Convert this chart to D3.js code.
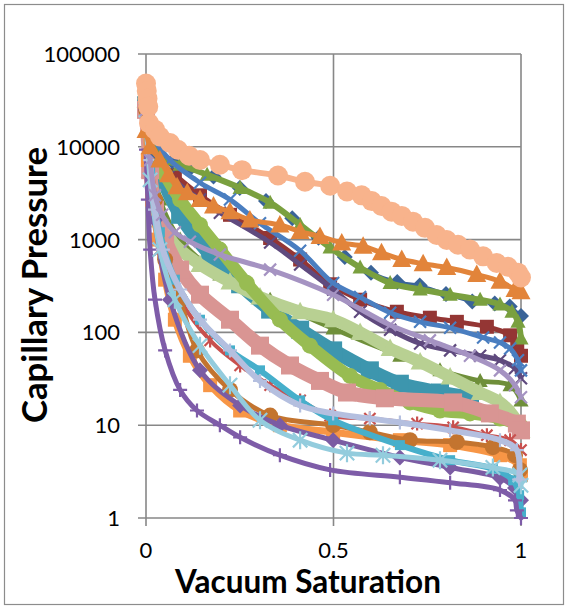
<!DOCTYPE html>
<html>
<head>
<meta charset="utf-8">
<script src="https://cdn.jsdelivr.net/npm/d3@7"></script>
<style>
  body { margin: 0; background: #fff; }
  svg { display: block; }
</style>
</head>
<body>
<script>
// vacuum saturation (x) and capillary pressure (y), one pair of arrays per curve
var satPeach = [0, 0.002, 0.004, 0.006, 0.008, 0.024, 0.037, 0.064, 0.085, 0.115, 0.144, 0.197, 0.256, 0.352, 0.424, 0.491, 0.536, 0.575, 0.602, 0.628, 0.655, 0.682, 0.712, 0.744, 0.775, 0.802, 0.832, 0.864, 0.899, 0.935, 0.965, 0.992, 1.0];
var pcPeach  = [48000, 40000, 33000, 27000, 18000, 15300, 12900, 11000, 9300, 8000, 7200, 6400, 5600, 4900, 4200, 3800, 3300, 3000, 2600, 2300, 2000, 1800, 1560, 1340, 1120, 990, 880, 780, 660, 560, 510, 440, 390];

var satOrange = [0, 0.011, 0.037, 0.06, 0.083, 0.11, 0.144, 0.18, 0.224, 0.277, 0.357, 0.411, 0.464, 0.522, 0.579, 0.628, 0.682, 0.739, 0.802, 0.882, 0.944, 0.984, 1.0];
var pcOrange  = [15000, 10000, 7200, 5000, 3700, 3200, 2700, 2300, 2000, 1630, 1440, 1220, 1080, 920, 850, 720, 610, 550, 500, 420, 355, 290, 275];

var satGreen = [0, 0.011, 0.037, 0.091, 0.163, 0.251, 0.331, 0.411, 0.491, 0.571, 0.651, 0.731, 0.811, 0.891, 0.944, 0.976, 0.992, 1.0];
var pcGreen  = [30000, 15000, 7600, 6400, 5000, 3600, 2500, 1440, 820, 500, 340, 290, 255, 225, 200, 167, 130, 86];

var satNavy = [0, 0.03, 0.07, 0.12, 0.18, 0.25, 0.32, 0.39, 0.46, 0.53, 0.6, 0.67, 0.73, 0.8, 0.87, 0.93, 0.97, 1.0];
var pcNavy  = [32000, 8500, 7000, 6000, 4800, 3600, 2600, 1700, 1050, 650, 440, 350, 320, 260, 215, 205, 190, 150];

var satBlue = [0, 0.024, 0.064, 0.144, 0.224, 0.304, 0.411, 0.499, 0.571, 0.651, 0.731, 0.811, 0.899, 0.944, 0.971, 0.992, 1.0];
var pcBlue  = [36000, 12000, 7200, 4100, 2700, 1500, 760, 340, 240, 163, 130, 112, 88, 78, 67, 50, 39];

var satMaroon = [0, 0.037, 0.077, 0.144, 0.224, 0.331, 0.411, 0.491, 0.571, 0.669, 0.757, 0.829, 0.909, 0.971, 0.99, 1.0];
var pcMaroon  = [32000, 7200, 5000, 3000, 1850, 1040, 610, 330, 225, 167, 144, 130, 115, 93, 72, 56];

var satPlum = [0, 0.064, 0.144, 0.197, 0.331, 0.411, 0.499, 0.571, 0.651, 0.731, 0.811, 0.891, 0.944, 0.984, 1.0];
var pcPlum  = [25000, 5000, 2700, 1950, 930, 540, 290, 167, 107, 76, 64, 56, 50, 41, 32];

var satLilac = [0, 0.011, 0.024, 0.043, 0.077, 0.117, 0.197, 0.331, 0.499, 0.651, 0.757, 0.864, 0.944, 0.984, 1.0];
var pcLilac  = [25000, 7200, 3000, 1850, 1200, 950, 690, 475, 255, 120, 82, 56, 39, 27, 20];

var satSage = [0, 0.011, 0.037, 0.077, 0.144, 0.224, 0.304, 0.411, 0.499, 0.571, 0.651, 0.731, 0.811, 0.891, 0.944, 0.979, 1.0];
var pcSage  = [32000, 5600, 1630, 880, 540, 350, 240, 167, 137, 100, 67, 48, 33, 22.5, 17.6, 12.7, 8.8];

var satOlive = [0, 0.037, 0.091, 0.197, 0.331, 0.499, 0.677, 0.784, 0.891, 0.971, 1.0];
var pcOlive  = [28000, 2700, 1000, 420, 225, 110, 56, 39, 30, 27, 18.5];

var satLime = [0, 0.024, 0.051, 0.091, 0.144, 0.197, 0.269, 0.357, 0.437, 0.544, 0.624, 0.704, 0.784, 0.864, 0.944, 0.997];
var pcLime  = [25000, 9300, 5000, 2700, 1440, 780, 340, 137, 72, 34, 24, 17.6, 14.4, 13.4, 11.8, 10];

var satTeal = [0, 0.037, 0.091, 0.171, 0.251, 0.331, 0.411, 0.499, 0.597, 0.677, 0.784, 0.864];
var pcTeal  = [28000, 5600, 1850, 690, 330, 176, 107, 64, 39, 28, 22.5, 20];

var satRose = [0, 0.011, 0.024, 0.051, 0.091, 0.144, 0.224, 0.304, 0.384, 0.464, 0.536, 0.637, 0.819, 0.917, 0.989, 1.0];
var pcRose  = [25000, 5600, 2100, 1000, 475, 255, 137, 72, 44, 30, 22.5, 19.5, 17.6, 13.4, 10.4, 8.8];

var satRed = [0, 0.011, 0.037, 0.091, 0.171, 0.251, 0.331, 0.411, 0.491, 0.597, 0.723, 0.819, 0.909, 0.971, 1.0];
var pcRed  = [25000, 4400, 780, 225, 82, 44, 27, 18.5, 12.7, 11.8, 10.4, 9.5, 7.8, 6.9, 5.4];

var satPeri = [0, 0.011, 0.024, 0.045, 0.091, 0.144, 0.224, 0.304, 0.411, 0.499, 0.597, 0.677, 0.811, 0.944, 0.989, 0.995];
var pcPeri  = [25000, 7200, 2100, 780, 290, 137, 64, 30, 16.3, 13.4, 11.8, 10.7, 8.8, 6.9, 5.4, 2.6];

var satTang = [0, 0.005, 0.016, 0.032, 0.051, 0.077, 0.117, 0.171, 0.251, 0.357, 0.499, 0.677, 0.811, 0.944, 0.997, 1.0];
var pcTang  = [25000, 7200, 2700, 1000, 370, 137, 56, 27, 14.4, 10, 8.4, 6.9, 6.1, 4.75, 3.7, 2.9];

var satRust = [0, 0.024, 0.051, 0.091, 0.136, 0.224, 0.331, 0.499, 0.597, 0.704, 0.829, 0.925, 0.984, 0.997];
var pcRust  = [25000, 2700, 610, 225, 64, 24, 12.7, 10, 8.4, 6.9, 6.6, 5.8, 4.75, 3.3];

var satAqua = [0, 0.011, 0.037, 0.077, 0.144, 0.224, 0.304, 0.411, 0.499, 0.677, 0.811, 0.925, 0.979, 0.995, 1.0];
var pcAqua  = [25000, 5600, 1200, 370, 137, 64, 39, 18.5, 11.3, 6.1, 4.2, 3.4, 2.55, 1.76, 1.15];

var satIris = [0, 0.024, 0.064, 0.144, 0.251, 0.357, 0.499, 0.677, 0.811, 0.944, 0.984, 1.0];
var pcIris  = [25000, 1630, 225, 39, 16.3, 10, 6.9, 4.5, 3.5, 2.7, 2.1, 1.55];

var satSky = [0, 0.011, 0.037, 0.077, 0.144, 0.224, 0.304, 0.411, 0.536, 0.632, 0.784, 0.925, 0.997, 1.0];
var pcSky  = [25000, 4400, 780, 225, 72, 27, 11.3, 6.9, 5.0, 4.75, 4.2, 3.5, 2.9, 2.25];

var satViolet = [0, 0.005, 0.011, 0.024, 0.051, 0.091, 0.136, 0.197, 0.251, 0.357, 0.491, 0.677, 0.811, 0.944, 0.984, 0.989, 1.0];
var pcViolet  = [9300, 2700, 780, 225, 64, 24, 14.4, 10, 7.4, 4.75, 3.3, 2.75, 2.4, 2.0, 1.55, 1.21, 1.0];

var xTicks = [0, 0.5, 1];
var yTicks = [1, 10, 100, 1000, 10000, 100000];

// drawing order = stacking order (last on top)
var series = [
  {x: satMaroon, y: pcMaroon, color: "#943634", marker: "square", size: 7, lw: 5},
  {x: satPlum,   y: pcPlum,   color: "#5F4A7E", marker: "x", size: 6, lw: 5},
  {x: satOlive,  y: pcOlive,  color: "#6F8F3A", marker: "triangle", size: 8, lw: 5},
  {x: satTeal,   y: pcTeal,   color: "#3D96AE", marker: "square", size: 9, lw: 14},
  {x: satSage,   y: pcSage,   color: "#B8D092", marker: "triangle", size: 10, lw: 12},
  {x: satLime,   y: pcLime,   color: "#98BC52", marker: "circle", size: 8, lw: 12},
  {x: satRose,   y: pcRose,   color: "#D99593", marker: "square", size: 9, lw: 14},
  {x: satRed,    y: pcRed,    color: "#C8504E", marker: "star", size: 7, lw: 4},
  {x: satTang,   y: pcTang,   color: "#F79646", marker: "square", size: 7, lw: 7},
  {x: satRust,   y: pcRust,   color: "#C3742F", marker: "circle", size: 8, lw: 5},
  {x: satIris,   y: pcIris,   color: "#7B5CA3", marker: "diamond", size: 8, lw: 5},
  {x: satAqua,   y: pcAqua,   color: "#46AFCB", marker: "square", size: 5, lw: 6},
  {x: satViolet, y: pcViolet, color: "#7E5CA8", marker: "plus", size: 7, lw: 5},
  {x: satSky,    y: pcSky,    color: "#93CCDD", marker: "star", size: 9, lw: 5},
  {x: satPeri,   y: pcPeri,   color: "#B4BFDF", marker: "plus", size: 7, lw: 6},
  {x: satLilac,  y: pcLilac,  color: "#A593C2", marker: "x", size: 6, lw: 5},
  {x: satNavy,   y: pcNavy,   color: "#3A6498", marker: "diamond", size: 8, lw: 3},
  {x: satGreen,  y: pcGreen,  color: "#7AA03F", marker: "triangle", size: 8, lw: 6},
  {x: satBlue,   y: pcBlue,   color: "#4A7EC0", marker: "x", size: 6, lw: 5},
  {x: satOrange, y: pcOrange, color: "#E2843A", marker: "triangle", size: 10, lw: 5},
  {x: satPeach,  y: pcPeach,  color: "#F8B38C", marker: "circle", size: 10, lw: 6}
];

var W = 568, H = 609;
var svg = d3.select("body").append("svg").attr("width", W).attr("height", H);

// chart frame
svg.append("rect").attr("x", 4.5).attr("y", 4.5).attr("width", 559).attr("height", 600)
  .attr("fill", "#fff").attr("stroke", "#8c8c8c").attr("stroke-width", 1.2);

var x = d3.scaleLinear().domain([0, 1]).range([146, 521]);
var y = d3.scaleLog().domain([1, 100000]).range([518, 54]);

var grid = svg.append("g").attr("stroke", "#878787").attr("stroke-width", 1.6);
yTicks.forEach(function (t) {
  grid.append("line").attr("x1", 138).attr("x2", x(1)).attr("y1", y(t)).attr("y2", y(t));
});
xTicks.forEach(function (t) {
  grid.append("line").attr("x1", x(t)).attr("x2", x(t)).attr("y1", y(100000)).attr("y2", y(1) + 8);
});

var font = "Lato, 'Open Sans', sans-serif";
svg.append("g").selectAll("text").data(yTicks).join("text")
  .attr("x", 120).attr("y", function (d) { return y(d); })
  .attr("dy", "0.36em").attr("text-anchor", "end")
  .style("font-family", font).style("font-size", "22px").style("fill", "#000")
  .text(function (d) { return d; });
svg.append("g").selectAll("text").data(xTicks).join("text")
  .attr("x", function (d) { return x(d); }).attr("y", 558)
  .attr("text-anchor", "middle")
  .style("font-family", font).style("font-size", "22px").style("fill", "#000")
  .text(function (d) { return d; });

// curves and markers
var line = d3.line()
  .x(function (d) { return x(d[0]); })
  .y(function (d) { return y(d[1]); })
  .curve(d3.curveCatmullRom.alpha(0.5));

function markerPath(type, s) {
  if (type === "diamond") return "M0," + (-s) + "L" + s + ",0L0," + s + "L" + (-s) + ",0Z";
  if (type === "square") return "M" + (-s) + "," + (-s) + "H" + s + "V" + s + "H" + (-s) + "Z";
  if (type === "triangle") return "M0," + (-s) + "L" + (s * 0.95) + "," + (s * 0.75) + "L" + (-s * 0.95) + "," + (s * 0.75) + "Z";
  if (type === "x") return "M" + (-s) + "," + (-s) + "L" + s + "," + s + "M" + s + "," + (-s) + "L" + (-s) + "," + s;
  if (type === "plus") return "M" + (-s) + ",0H" + s + "M0," + (-s) + "V" + s;
  if (type === "star") return "M" + (-s * 0.8) + "," + (-s * 0.8) + "L" + (s * 0.8) + "," + (s * 0.8) +
    "M" + (s * 0.8) + "," + (-s * 0.8) + "L" + (-s * 0.8) + "," + (s * 0.8) + "M0," + (-s) + "V" + s;
  return null;
}

var plot = svg.append("g");
series.forEach(function (s) {
  var pts = s.x.map(function (v, i) { return [v, s.y[i]]; });
  var g = plot.append("g");
  g.append("path").datum(pts).attr("d", line)
    .attr("fill", "none").attr("stroke", s.color).attr("stroke-width", s.lw)
    .attr("stroke-linejoin", "round").attr("stroke-linecap", "round");
  var open = s.marker === "x" || s.marker === "plus" || s.marker === "star";
  if (s.marker === "circle") {
    g.selectAll("circle").data(pts).join("circle")
      .attr("cx", function (d) { return x(d[0]); })
      .attr("cy", function (d) { return y(d[1]); })
      .attr("r", s.size).attr("fill", s.color);
  } else {
    g.selectAll("path.m").data(pts).join("path").attr("class", "m")
      .attr("transform", function (d) { return "translate(" + x(d[0]) + "," + y(d[1]) + ")"; })
      .attr("d", markerPath(s.marker, s.size))
      .attr("fill", open ? "none" : s.color)
      .attr("stroke", open ? s.color : "none")
      .attr("stroke-width", open ? 2.2 : 0);
  }
});

// axis titles, fitted to the widths seen in the reference
function fit(sel, target) {
  var w = sel.node().getComputedTextLength();
  var fs = parseFloat(sel.style("font-size"));
  sel.style("font-size", (fs * target / w) + "px");
}
var xt = svg.append("text").attr("x", 308).attr("y", 593).attr("text-anchor", "middle")
  .style("font-family", font).style("font-weight", "bold").style("font-size", "30px")
  .text("Vacuum Saturation");
fit(xt, 266);
var yt = svg.append("text").attr("transform", "translate(47,285) rotate(-90)").attr("text-anchor", "middle")
  .style("font-family", font).style("font-weight", "bold").style("font-size", "30px")
  .text("Capillary Pressure");
fit(yt, 276);
</script>
</body>
</html>
